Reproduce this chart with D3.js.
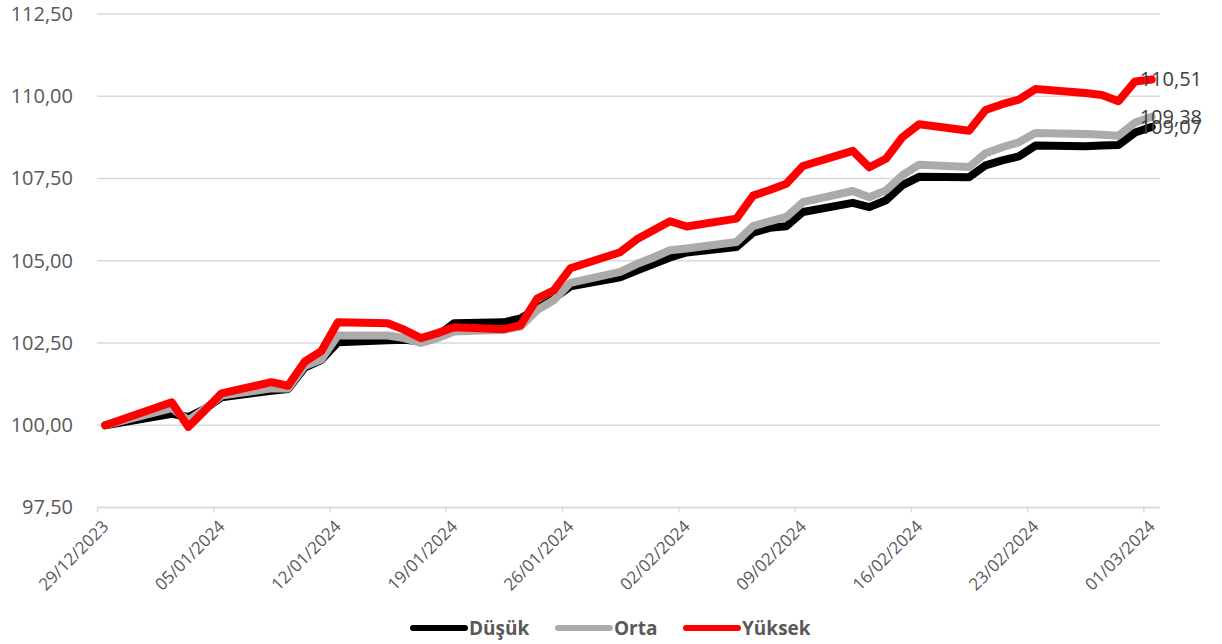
<!DOCTYPE html>
<html>
<head>
<meta charset="utf-8">
<script src="https://cdn.jsdelivr.net/npm/d3@7"></script>
<style>
  body { margin: 0; background: #fff; }
  svg { display: block; font-family: "Open Sans", sans-serif; }
</style>
</head>
<body>
<div class="main"></div>
<script>
// trading days
var dates = ["29/12/2023","02/01/2024","03/01/2024","04/01/2024","05/01/2024",
  "08/01/2024","09/01/2024","10/01/2024","11/01/2024","12/01/2024",
  "15/01/2024","16/01/2024","17/01/2024","18/01/2024","19/01/2024",
  "22/01/2024","23/01/2024","24/01/2024","25/01/2024","26/01/2024",
  "29/01/2024","30/01/2024","31/01/2024","01/02/2024","02/02/2024",
  "05/02/2024","06/02/2024","07/02/2024","08/02/2024","09/02/2024",
  "12/02/2024","13/02/2024","14/02/2024","15/02/2024","16/02/2024",
  "19/02/2024","20/02/2024","21/02/2024","22/02/2024","23/02/2024",
  "26/02/2024","27/02/2024","28/02/2024","29/02/2024","01/03/2024"];

var dusuk = [100.00,100.35,100.25,100.50,100.85,
  101.05,101.10,101.75,101.98,102.52,
  102.58,102.60,102.55,102.72,103.10,
  103.13,103.25,103.55,103.85,104.22,
  104.50,104.70,104.90,105.10,105.25,
  105.42,105.85,106.00,106.05,106.48,
  106.76,106.63,106.84,107.30,107.55,
  107.54,107.90,108.05,108.17,108.50,
  108.48,108.50,108.52,108.90,109.07];

var orta = [100.00,100.52,100.15,100.50,100.90,
  101.12,101.12,101.80,102.00,102.73,
  102.73,102.65,102.50,102.65,102.85,
  102.90,103.00,103.50,103.80,104.33,
  104.66,104.90,105.10,105.32,105.37,
  105.57,106.05,106.20,106.33,106.78,
  107.12,106.93,107.14,107.60,107.92,
  107.85,108.27,108.45,108.60,108.88,
  108.85,108.83,108.80,109.20,109.38];

var yuksek = [100.00,100.70,99.95,100.45,100.97,
  101.31,101.20,101.93,102.25,103.13,
  103.10,102.90,102.65,102.80,102.98,
  102.92,103.04,103.85,104.10,104.77,
  105.26,105.65,105.93,106.20,106.04,
  106.28,106.98,107.15,107.34,107.88,
  108.34,107.84,108.10,108.76,109.15,
  108.95,109.58,109.76,109.90,110.22,
  110.10,110.04,109.85,110.45,110.51];

var seriesNames = ["Düşük", "Orta", "Yüksek"];
var seriesColors = ["#000000", "#AEAAAA", "#FF0000"];
var xTickLabels = ["29/12/2023","05/01/2024","12/01/2024","19/01/2024","26/01/2024",
  "02/02/2024","09/02/2024","16/02/2024","23/02/2024","01/03/2024"];
var yTicks = [97.5, 100, 102.5, 105, 107.5, 110, 112.5];

var W = 1222, H = 644;
var parse = d3.utcParse("%d/%m/%Y");
var fmt = function(v) { return d3.format(".2f")(v).replace(".", ","); };

var svg = d3.select(".main").append("svg")
    .attr("width", W)
    .attr("height", H);

// excel date axis: each day is a slot, point sits in the middle
var x = d3.scaleUtc()
    .domain([parse("29/12/2023"), parse("02/03/2024")])
    .range([97, 1160]);
var y = d3.scaleLinear()
    .domain([97.5, 112.5])
    .range([507.5, 14]);

var mid = function(d) { return x(d3.utcHour.offset(parse(d), 12)); };

// gridlines
svg.append("g").selectAll("line")
    .data(yTicks)
    .enter().append("line")
    .attr("x1", 97).attr("x2", 1160)
    .attr("y1", function(d) { return y(d); })
    .attr("y2", function(d) { return y(d); })
    .attr("stroke", "#d9d9d9")
    .attr("stroke-width", 1.5);

// y labels
var yAxis = d3.axisLeft(y).tickValues(yTicks).tickSize(0).tickPadding(0).tickFormat(fmt);
var gy = svg.append("g").attr("transform", "translate(73,0)").call(yAxis);
gy.select(".domain").remove();
gy.selectAll("text")
    .attr("font-family", "Open Sans")
    .attr("font-size", 20)
    .attr("fill", "#595959");

// x axis
var xAxis = d3.axisBottom(x)
    .tickValues(xTickLabels.map(parse))
    .tickSize(5)
    .tickFormat(d3.utcFormat("%d/%m/%Y"));
var gx = svg.append("g").attr("transform", "translate(0,507.5)").call(xAxis);
gx.select(".domain").attr("stroke", "#d9d9d9").attr("stroke-width", 1.5).attr("d", "M97,0H1160");
gx.selectAll(".tick line").attr("stroke", "#d9d9d9").attr("stroke-width", 1.5);
gx.selectAll("text")
    .attr("font-family", "Open Sans")
    .attr("font-size", 17)
    .attr("fill", "#595959")
    .attr("text-anchor", "end")
    .attr("y", 0)
    .attr("dy", "0.35em")
    .attr("transform", "translate(8,16) rotate(-45)");

// lines
var allSeries = [dusuk, orta, yuksek];
var line = d3.line()
    .x(function(d, i) { return mid(dates[i]); })
    .y(function(d) { return y(d); });

svg.append("g").selectAll("path")
    .data(allSeries)
    .enter().append("path")
    .attr("d", line)
    .attr("fill", "none")
    .attr("stroke", function(d, i) { return seriesColors[i]; })
    .attr("stroke-width", 8)
    .attr("stroke-linejoin", "round")
    .attr("stroke-linecap", "round");

// end labels
var last = dates.length - 1;
svg.append("g").selectAll("text")
    .data(allSeries)
    .enter().append("text")
    .attr("x", mid(dates[last]) - 12)
    .attr("y", function(d) { return y(d[last]); })
    .attr("dy", "0.35em")
    .attr("font-family", "Open Sans")
    .attr("font-size", 20)
    .attr("fill", "#404040")
    .text(function(d) { return fmt(d[last]); });

// legend
var legX = [410, 555, 683];
var leg = svg.append("g").selectAll("g")
    .data(seriesNames)
    .enter().append("g")
    .attr("transform", function(d, i) { return "translate(" + legX[i] + ",628)"; });
leg.append("line")
    .attr("x1", 3).attr("x2", 55)
    .attr("stroke", function(d, i) { return seriesColors[i]; })
    .attr("stroke-width", 6)
    .attr("stroke-linecap", "round");
leg.append("text")
    .attr("x", 59)
    .attr("dy", "0.35em")
    .attr("font-family", "Open Sans")
    .attr("font-weight", "bold")
    .attr("font-size", 19)
    .attr("fill", "#595959")
    .text(function(d) { return d; });
</script>
</body>
</html>
